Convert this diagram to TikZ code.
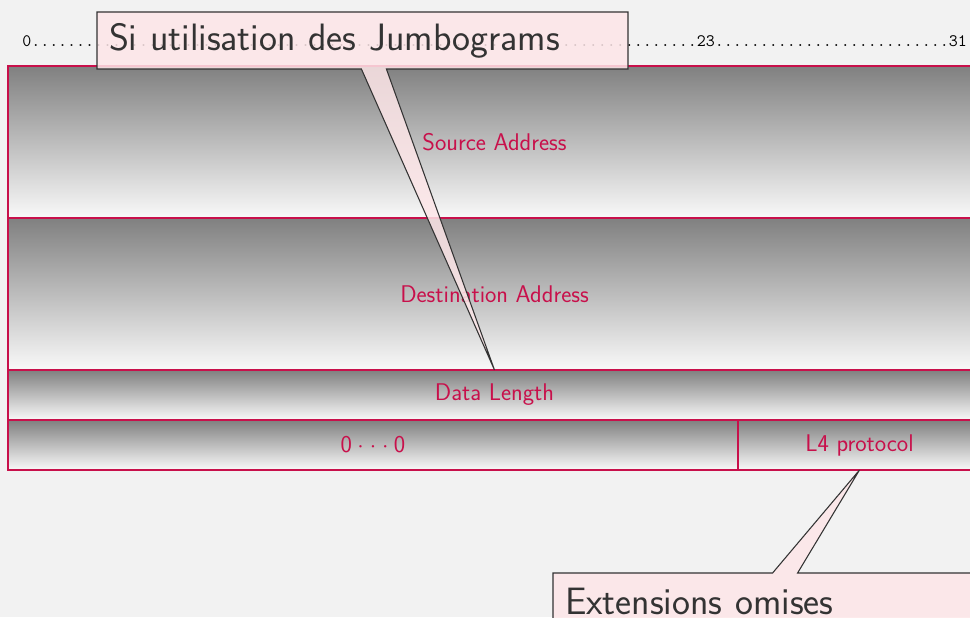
\documentclass[tikz,border=0pt]{standalone}
\usetikzlibrary{shapes.callouts}
\definecolor{crim}{RGB}{200,16,75}
\definecolor{bgpaper}{RGB}{242,242,242}
\definecolor{notefill}{RGB}{253,230,232}
\definecolor{gtop}{RGB}{128,128,128}
\definecolor{gbot}{RGB}{249,249,249}
\begin{document}
\begin{tikzpicture}[x=0.75pt,y=-0.75pt,
  field/.style={draw=crim, line width=0.9pt, top color=gtop, bottom color=gbot,
    text=crim, font=\sffamily\fontsize{18.1}{21}\selectfont, inner sep=0pt,
    outer sep=0pt, anchor=north west},
  note/.style={rectangle callout, draw=black!80, line width=0.8pt, fill=notefill,
    fill opacity=0.85, draw opacity=1, text opacity=1, text=black!80,
    font=\sffamily\fontsize{28.6}{33}\selectfont, callout pointer width=18.75pt,
    inner xsep=9pt, inner ysep=0pt, align=left, minimum height=42.75pt}
]
\useasboundingbox (0,0) rectangle (970,617);
\fill[bgpaper] (0,0) rectangle (970,617);
\clip (0,0) rectangle (970,617);

% bit ruler
\node[anchor=base west, inner sep=0pt, text=black,
      font=\ttfamily\fontsize{13.1}{15}\selectfont] (ruler) at (22,47)
  {0..........................................................................23..........................31};

% header fields
\node[field, minimum width=729.75pt, minimum height=114pt] (src) at (8,66) {Source Address};
\node[field, minimum width=729.75pt, minimum height=114pt] (dst) at (src.south west) {Destination Address};
\node[field, minimum width=729.75pt, minimum height=37.5pt] (len) at (dst.south west) {Data Length};
\node[field, minimum width=547.5pt, minimum height=37.5pt] (pad) at (len.south west)
  {0\hspace{4pt}$\cdot$\hspace{4.5pt}$\cdot$\hspace{4.5pt}$\cdot$\hspace{4pt}0};
\node[field, minimum width=182.25pt, minimum height=37.5pt] (proto) at (pad.north east) {L4 protocol};

% annotations
\node[note, text width=380.25pt, callout absolute pointer={(len.north)}] (jumbo)
  at (362.5,40.5) {Si utilisation des Jumbograms};
\node[note, text width=299.25pt, callout absolute pointer={(proto.south)}] (ext)
  at (764.5,601.5) {Extensions omises};
\end{tikzpicture}
\end{document}
